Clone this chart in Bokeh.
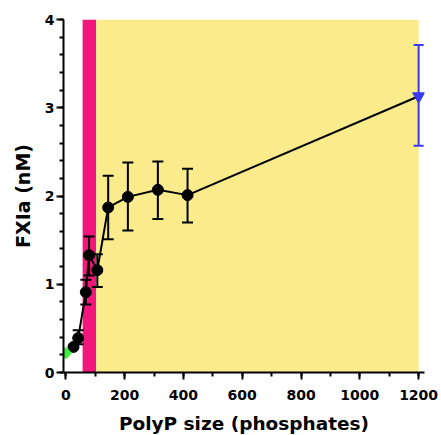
import numpy as np
from bokeh.plotting import figure
from bokeh.models import Range1d, SingleIntervalTicker
from bokeh.embed import file_html
from bokeh.resources import INLINE

# ---- data ----
band_left = [57, 103]
band_right = [103, 1200]
band_colors = ["#F2177B", "#FAEB8C"]
band_bottom = [0, 0]
band_top = [4, 4]

size_x = [26, 42, 68, 79, 107, 144, 211, 313, 414]
fxia = [0.29, 0.39, 0.91, 1.33, 1.16, 1.87, 1.99, 2.07, 2.01]
fxia_lo = [0.29, 0.32, 0.77, 1.10, 0.97, 1.51, 1.61, 1.74, 1.70]
fxia_hi = [0.29, 0.48, 1.05, 1.54, 1.34, 2.23, 2.38, 2.39, 2.31]

green_x = [0]
green_y = [0.22]

blue_x = [1200]
blue_y = [3.13]
blue_lo = [2.57]
blue_hi = [3.71]

x_ticks_interval = 200
y_ticks_interval = 1

BLUE = "#3A3AF5"

# ---- figure ----
p = figure(frame_width=361, frame_height=353,
           x_range=Range1d(-8, 1220), y_range=Range1d(0, 4),
           output_backend="svg", toolbar_location=None,
           min_border_left=63, min_border_top=19,
           min_border_right=17, min_border_bottom=60)
p.outline_line_color = None
p.xgrid.visible = False
p.ygrid.visible = False

p.quad(left=band_left, right=band_right, bottom=band_bottom, top=band_top,
       fill_color=band_colors, line_color=None)

# connecting line (black series + blue end point)
p.line(size_x + blue_x, fxia + blue_y, line_color="black", line_width=2)

# error bars (black)
p.segment(x0=size_x, y0=fxia_lo, x1=size_x, y1=fxia_hi,
          line_color="black", line_width=2)
p.scatter(size_x, fxia_lo, marker="dash", size=11, line_color="black", line_width=2)
p.scatter(size_x, fxia_hi, marker="dash", size=11, line_color="black", line_width=2)

# error bar (blue)
p.segment(x0=blue_x, y0=blue_lo, x1=blue_x, y1=blue_hi,
          line_color=BLUE, line_width=2)
p.scatter(blue_x, blue_lo, marker="dash", size=10, line_color=BLUE, line_width=2)
p.scatter(blue_x, blue_hi, marker="dash", size=10, line_color=BLUE, line_width=2)

p.scatter(size_x, fxia, marker="circle", size=11, fill_color="black",
          line_color="black")
p.scatter(green_x, green_y, marker="square", angle=np.pi / 4, size=8,
          fill_color="#3BEF3B", line_color="#3BEF3B")
p.scatter(blue_x, blue_y, marker="inverted_triangle", size=12,
          fill_color=BLUE, line_color=BLUE)

# axes
font = "DejaVu Sans"
p.xaxis.ticker = SingleIntervalTicker(interval=x_ticks_interval, num_minor_ticks=2)
p.yaxis.ticker = SingleIntervalTicker(interval=y_ticks_interval, num_minor_ticks=5)

for ax in (p.xaxis, p.yaxis):
    ax.axis_line_width = 2
    ax.axis_line_color = "black"
    ax.major_tick_line_width = 2
    ax.minor_tick_line_width = 2
    ax.major_tick_line_color = "black"
    ax.minor_tick_line_color = "black"
    ax.major_tick_in = 0
    ax.minor_tick_in = 0
    ax.major_tick_out = 7
    ax.minor_tick_out = 4
    ax.major_label_text_font = font
    ax.major_label_text_font_style = "bold"
    ax.major_label_text_font_size = "14px"
    ax.major_label_text_color = "black"
    ax.axis_label_text_font = font
    ax.axis_label_text_font_style = "bold"
    ax.axis_label_text_color = "black"

p.xaxis.axis_label = "PolyP size (phosphates)"
p.yaxis.axis_label = "FXIa (nM)"
p.xaxis.axis_label_text_font_size = "18.5px"
p.yaxis.axis_label_text_font_size = "19px"
p.xaxis.major_label_standoff = 10
p.yaxis.major_label_standoff = 2
p.xaxis.axis_label_standoff = 10
p.yaxis.axis_label_standoff = 8

open("out.html", "w").write(file_html(p, INLINE))
